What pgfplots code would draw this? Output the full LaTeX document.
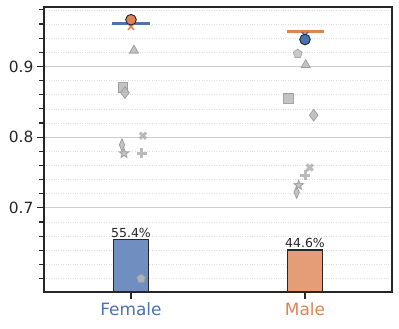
\documentclass[border=0pt]{standalone}
\usepackage{fontspec}
\setmainfont{DejaVu Sans}
\usepackage{pgfplots}
\pgfplotsset{compat=1.18}
\usetikzlibrary{plotmarks}
\definecolor{sbblue}{HTML}{4C72B0}
\definecolor{sborange}{HTML}{DD8452}
\definecolor{axdark}{HTML}{262626}
\definecolor{mkfill}{HTML}{BDBDBD}
\definecolor{mkedge}{HTML}{9A9A9A}

% filled five point star
\pgfdeclareplotmark{fstar}{%
  \pgfpathmoveto{\pgfpointpolar{90}{\pgfplotmarksize}}%
  \pgfpathlineto{\pgfpointpolar{126}{0.42\pgfplotmarksize}}%
  \pgfpathlineto{\pgfpointpolar{162}{\pgfplotmarksize}}%
  \pgfpathlineto{\pgfpointpolar{198}{0.42\pgfplotmarksize}}%
  \pgfpathlineto{\pgfpointpolar{234}{\pgfplotmarksize}}%
  \pgfpathlineto{\pgfpointpolar{270}{0.42\pgfplotmarksize}}%
  \pgfpathlineto{\pgfpointpolar{306}{\pgfplotmarksize}}%
  \pgfpathlineto{\pgfpointpolar{342}{0.42\pgfplotmarksize}}%
  \pgfpathlineto{\pgfpointpolar{18}{\pgfplotmarksize}}%
  \pgfpathlineto{\pgfpointpolar{54}{0.42\pgfplotmarksize}}%
  \pgfpathclose
  \pgfusepathqfillstroke}

\begin{document}
\begin{tikzpicture}
\begin{axis}[
  scale only axis, width=348bp, height=285bp,
  xmin=-0.5, xmax=1.5, ymin=0.581, ymax=0.984,
  axis line style={axdark, line width=1.2bp},
  xtick={0,1},
  xticklabels={\textcolor{sbblue}{Female},\textcolor{sborange}{Male}},
  ytick={0.7,0.8,0.9},
  minor ytick={0.60,0.62,0.64,0.66,0.68,0.72,0.74,0.76,0.78,0.82,0.84,0.86,0.88,0.92,0.94,0.96,0.98},
  /pgf/number format/assume math mode=true,
  yticklabel style={/pgf/number format/fixed, /pgf/number format/precision=1,
    font=\fontsize{15.5}{18}\selectfont, text=axdark},
  xticklabel style={font=\fontsize{17}{20}\selectfont},
  xtick pos=bottom, ytick pos=left,
  tick align=outside,
  major tick length=7bp, minor tick length=4.5bp,
  every tick/.style={axdark, line width=1.2bp},
  ymajorgrids, yminorgrids,
  major grid style={draw=gray!40, line width=1bp},
  minor grid style={draw=gray!25, dotted, line width=0.6bp},
]
% share of each group
\addplot[ybar, bar width=0.2, fill=sbblue!80!white, draw=axdark, line width=1.2bp,
  point meta=explicit symbolic,
  nodes near coords={\pgfplotspointmeta\%},
  nodes near coords style={font=\fontsize{12.5}{14}\selectfont, text=axdark, inner sep=1.5bp}]
  coordinates {(0,0.6555) [55.4] (1,0.6404) [44.6]};
\addplot[ybar, bar width=0.2, fill=sborange!80!white, draw=axdark, line width=1.2bp]
  coordinates {(1,0.6404)};

% grey markers
\addplot[only marks, mark=triangle*, mark size=5.3bp, mark options={fill=mkfill, draw=mkedge, line width=0.8bp, opacity=0.9}]
  coordinates {(0.017,0.9225) (1.004,0.902)};
\addplot[only marks, mark=square*, mark size=4.8bp, mark options={fill=mkfill, draw=mkedge, line width=0.8bp, opacity=0.9}]
  coordinates {(-0.046,0.870) (0.906,0.855)};
\addplot[only marks, mark=diamond*, mark size=5.8bp, mark options={fill=mkfill, draw=mkedge, line width=0.8bp, opacity=0.9}]
  coordinates {(-0.035,0.863) (1.05,0.831)};
\addplot[only marks, mark=pentagon*, mark size=4.6bp, mark options={fill=mkfill, draw=mkedge, line width=0.8bp, opacity=0.8}]
  coordinates {(0.058,0.600) (0.958,0.918)};
\addplot[only marks, mark=diamond*, mark size=6bp, mark options={xscale=0.6, fill=mkfill, draw=mkedge, line width=0.8bp, opacity=0.9}]
  coordinates {(-0.052,0.789) (0.952,0.722)};
\addplot[only marks, mark=fstar, mark size=5bp, mark options={fill=mkfill, draw=mkedge, line width=0.8bp, opacity=0.9}]
  coordinates {(-0.04,0.777) (0.964,0.732)};
\addplot[only marks, mark=x, mark size=4.3bp, mark options={draw=mkfill!70!mkedge, line width=3bp, opacity=0.9}]
  coordinates {(0.069,0.802) (1.027,0.757)};
\addplot[only marks, mark=+, mark size=5bp, mark options={draw=mkfill!70!mkedge, line width=3bp, opacity=0.9}]
  coordinates {(0.063,0.777) (1.0,0.746)};

% group markers
\addplot[only marks, mark=x, mark size=4.3bp, mark options={draw=sborange, line width=1.5bp}]
  coordinates {(0,0.956)};
\addplot[only marks, mark=x, mark size=4.3bp, mark options={draw=sbblue, line width=1.5bp}]
  coordinates {(1,0.944)};
\addplot[sbblue, line width=2.8bp] coordinates {(-0.11,0.9606) (0.11,0.9606)};
\addplot[sborange, line width=2.8bp] coordinates {(0.895,0.9497) (1.108,0.9497)};
\addplot[only marks, mark=*, mark size=5.3bp, mark options={fill=sborange, draw=axdark, line width=0.9bp}]
  coordinates {(0,0.966)};
\addplot[only marks, mark=*, mark size=5.3bp, mark options={fill=sbblue, draw=axdark, line width=0.9bp}]
  coordinates {(1,0.938)};
\end{axis}
\path ([xshift=-44bp,yshift=-37bp]current axis.south west) rectangle ([xshift=7bp,yshift=7bp]current axis.north east);
\end{tikzpicture}
\end{document}
